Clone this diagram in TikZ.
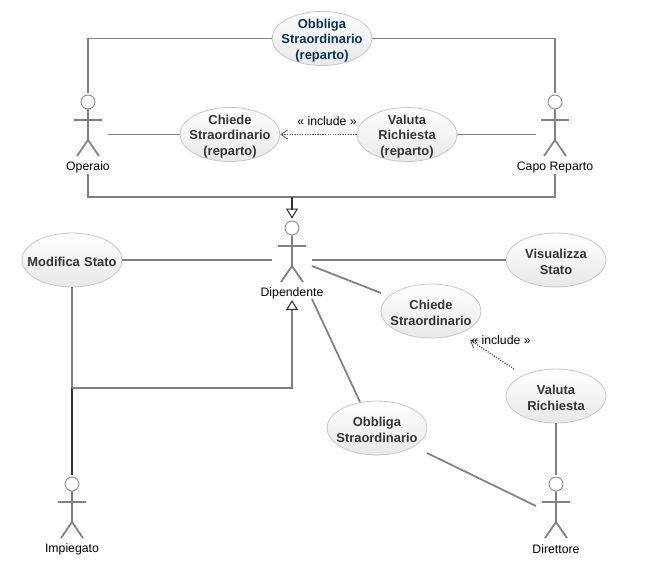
\documentclass[tikz,border=0pt]{standalone}
\usepackage{fontspec}
\setmainfont{Liberation Sans}
\usetikzlibrary{arrows.meta,shapes.geometric}
\definecolor{linegray}{RGB}{128,128,128}
\definecolor{edgegray}{RGB}{200,200,200}
\definecolor{darkline}{RGB}{51,51,51}
\definecolor{titleblue}{RGB}{10,50,85}
\tikzset{
	usecase/.style={ellipse,draw=edgegray,line width=0.6pt,top color=white,bottom color=black!9,
		minimum width=75pt,minimum height=40.5pt,inner xsep=-10pt,inner ysep=-6pt,
		text width=72pt,align=center,text=darkline,text height=10pt,
		font=\fontsize{9.7}{11.7}\selectfont\bfseries},
	actorhead/.style={circle,draw=linegray,fill=white,line width=0.6pt,minimum size=10.5pt,inner sep=0pt},
	actorlabel/.style={inner sep=0pt,font=\fontsize{9.2}{11}\selectfont},
	assoc/.style={draw=linegray,line width=1.3pt},
	genline/.style={draw=darkline,line width=1.3pt},
	hollowtip/.style={-{Triangle[open,length=7.5pt,width=9pt,color=darkline,line width=0.8pt]}},
	incl/.style={draw=black!65,densely dotted,line width=0.9pt,
		-{Straight Barb[length=5pt,width=7pt,line width=0.6pt]}}
}
\begin{document}
\begin{tikzpicture}[x=0.75pt,y=-0.75pt]
\useasboundingbox (0,0) rectangle (648,571);
\fill[white] (0,0) rectangle (648,571);
% actors
\foreach \nm/\x/\y/\txt in {operaio/88/102/Operaio,capo/555/102/Capo Reparto,dipendente/292/228/Dipendente,impiegato/72/484/Impiegato,direttore/556/484/Direttore}{
	\node[actorhead] (\nm) at (\x,\y) {};
	\draw[assoc] (\nm.south) -- (\x,\y+38) -- (\x-11,\y+54);
	\draw[assoc] (\x,\y+38) -- (\x+11,\y+54);
	\draw[assoc] (\x-14,\y+18) -- (\x+14,\y+18);
	\node[actorlabel] (\nm label) at (\x,\y+65) {\txt};
}
% use cases
\node[usecase,text=titleblue] (obbligaRep) at (322,38.5) {Obbliga\\Straordinario\\(reparto)};
\node[usecase] (chiedeRep) at (230,134.5) {Chiede\\Straordinario\\(reparto)};
\node[usecase] (valutaRep) at (407,134.5) {Valuta\\Richiesta\\(reparto)};
\node[usecase] (modifica) at (72,260) {Modifica Stato};
\node[usecase] (visualizza) at (556,260) {Visualizza\\Stato};
\node[usecase] (chiede) at (431,311) {Chiede\\Straordinario};
\node[usecase] (valuta) at (556,396) {Valuta\\Richiesta};
\node[usecase] (obbliga) at (377,428) {Obbliga\\Straordinario};
% free ends
\coordinate (opTop) at (88,93);
\coordinate (opRight) at (108,134.5);
\coordinate (opBottom) at (88,174);
\coordinate (capoTop) at (555,93);
\coordinate (capoLeft) at (536,134.5);
\coordinate (capoBottom) at (555,174);
\coordinate (genTop) at (292,197);
\coordinate (genMid) at (292,209);
\coordinate (dipLeft) at (272,260);
\coordinate (dipRight) at (312,260);
\coordinate (dipChiede) at (312,266);
\coordinate (dipObbliga) at (312,299);
\coordinate (chiedeEnd) at (381,293);
\coordinate (obbligaEnd) at (360,402);
\coordinate (impTop) at (72,475);
\coordinate (impJoin) at (72,388);
\coordinate (dipLow) at (292,300);
\coordinate (dirTop) at (556,475);
\coordinate (dirLeft) at (536,506);
\coordinate (obbligaDir) at (427,453);
\coordinate (valutaOut) at (514,369);
\coordinate (chiedeIn) at (470,340);
% associations
\draw[assoc] (opTop) |- (obbligaRep.west);
\draw[assoc] (capoTop) |- (obbligaRep.east);
\draw[assoc] (opRight) -- (chiedeRep.west);
\draw[assoc] (valutaRep.east) -- (capoLeft);
\draw[assoc] (opBottom) |- (genTop);
\draw[assoc] (capoBottom) |- (genTop);
\draw[assoc] (modifica.east) -- (dipLeft);
\draw[assoc] (dipRight) -- (visualizza.west);
\draw[assoc] (dipChiede) -- (chiedeEnd);
\draw[assoc] (dipObbliga) -- (obbligaEnd);
\draw[assoc] (modifica.south) -- (impJoin);
\draw[assoc] (valuta.south) -- (dirTop);
\draw[assoc] (obbligaDir) -- (dirLeft);
% generalizations
\draw[genline] (genTop) -- (genMid);
\draw[hollowtip,draw=darkline,line width=0.8pt] (genMid) -- ([yshift=1.5pt]dipendente.north);
\draw[genline] (impTop) -- (impJoin);
\draw[assoc,hollowtip] (impJoin) -| (dipLow);
% includes
\draw[incl] (valutaRep.west) -- (chiedeRep.east);
\node[actorlabel] (includeRep) at (327,121) {« include »};
\draw[incl] (valutaOut) -- (chiedeIn);
\node[actorlabel] (includeDir) at (501,340) {« include »};
\end{tikzpicture}
\end{document}
